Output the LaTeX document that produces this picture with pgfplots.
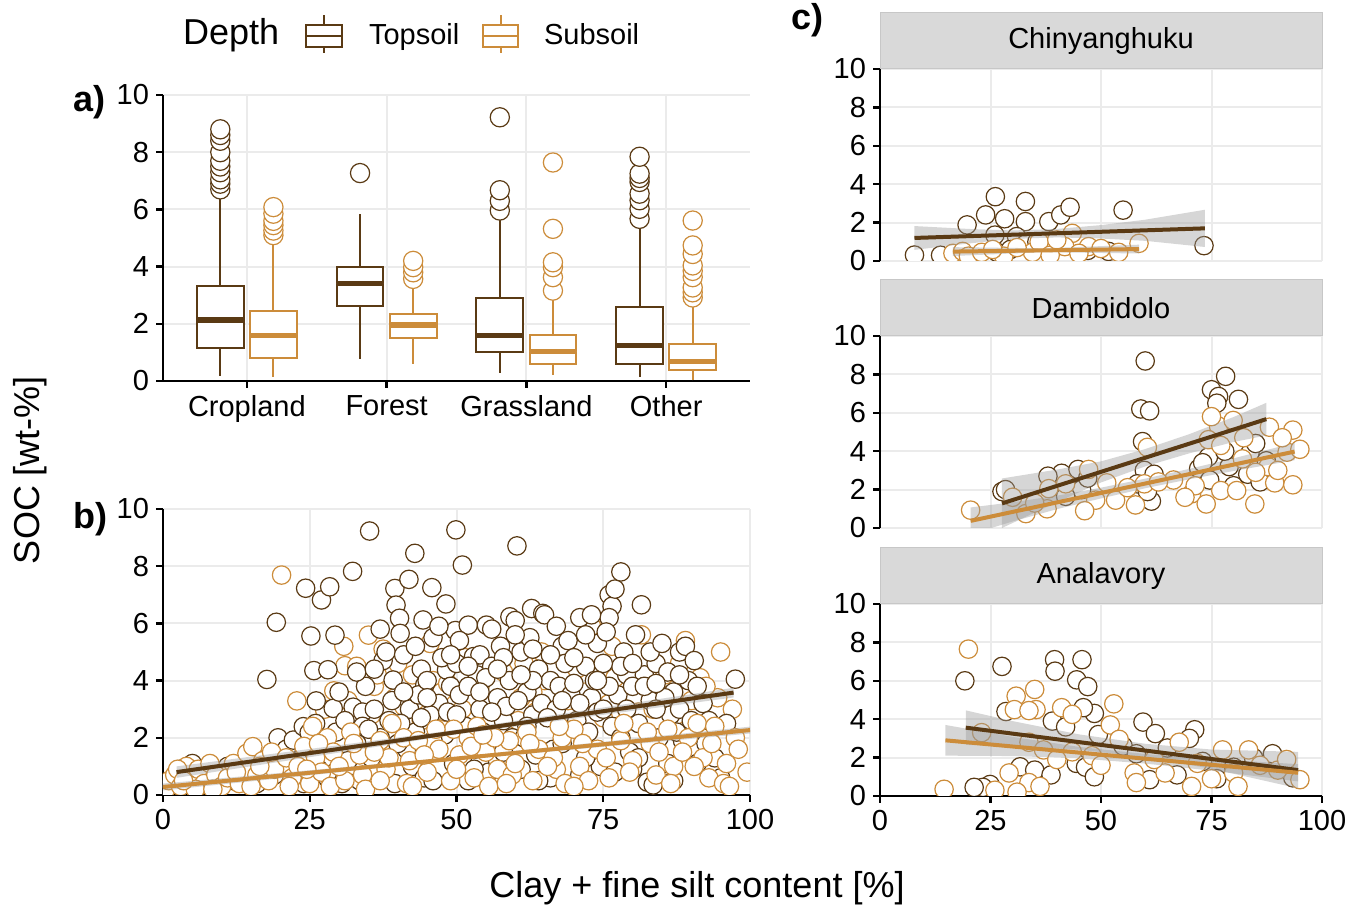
\documentclass[border=0pt]{standalone}
\usepackage{pgfplots}
\pgfplotsset{compat=1.18}
\usepackage{pgfplotstable}
\usepgfplotslibrary{statistics}
\usepackage{fontspec}
\setmainfont{Liberation Sans}

\definecolor{topc}{RGB}{90,58,20}
\definecolor{subc}{RGB}{204,140,58}
\definecolor{gridc}{RGB}{235,235,235}
\definecolor{stripc}{RGB}{217,217,217}

\pgfplotsset{
  soc/.style={
    scale only axis, anchor=south west,
    axis lines=left, axis line style={-, line width=1.2pt, black},
    tick align=outside, major tick length=3.5pt,
    tick style={line width=1.2pt, black},
    grid=major, major grid style={line width=1pt, gridc},
    ymin=0, ymax=10, ytick={0,2,4,6,8,10},
    tick label style={font=\fontsize{14.5}{16}\selectfont, text=black},
    /pgf/number format/assume math mode=true,
    clip marker paths=true,
  },
  noxlab/.style={xticklabels={},
    x axis line style={draw=none}, xtick style={draw=none}},
  ptT/.style={only marks, mark=*, mark size=4.6pt,
    mark options={draw=topc, fill=white, line width=0.6pt}},
  ptS/.style={only marks, mark=*, mark size=4.6pt,
    mark options={draw=subc, fill=white, line width=0.6pt}},
  band/.style={draw=none, fill=black!40, fill opacity=0.4},
  boxT/.style={draw=topc, line width=1pt, fill=white, mark=*, mark size=4.8pt,
    mark options={draw=topc, fill=white, line width=0.6pt},
    boxplot/draw direction=y,
    boxplot/box extend=0.335, boxplot/whisker extend=0,
    boxplot/every median/.style={line width=2.6pt}},
  boxS/.style={boxT, draw=subc,
    mark options={draw=subc, fill=white, line width=0.6pt}},
}

% panel b: SOC vs clay + fine silt, all sites
\pgfplotstableread{
x y
3 0.9
5 1.1
7 0.6
8 1.0
10 0.5
6 0.3
11 1.0
12 0.5
14 0.8
16 0.4
17.7 4.04
18 1.2
19.3 6.04
19.6 2.0
19 0.7
21 1.6
22.2 1.92
22 0.9
23.9 2.39
24.3 7.23
24.9 2.18
23 1.2
24 0.4
25.2 5.56
25.7 4.35
26.1 3.29
27 6.82
27 1.92
28.4 7.28
28.1 4.38
29.3 5.59
29 3.03
26 2.5
27.5 1.3
28 0.6
29.5 2.2
26.5 0.9
32.3 7.82
32.4 3.07
31 2.6
33 1.8
34 2.9
33.5 0.5
31.5 1.2
34.5 3.8
30.5 0.4
33 4.3
34 2.4
35.2 9.23
39.5 7.22
39.7 6.64
37 2.0
36 3.0
38 1.5
39.2 4.02
38.5 2.6
36.5 0.8
37.5 4.7
39 3.3
35.5 1.3
38 5.0
39.5 0.4
40.3 6.18
40.4 5.65
41.9 7.54
42.9 8.45
44.3 6.12
44.6 3.85
41 4.9
42 3.0
43 2.2
41.5 1.6
43.5 3.5
42.5 1.0
44 4.4
40.5 2.5
44.5 0.6
43 5.2
45.8 7.25
48.2 6.68
48.3 4.37
49.8 5.75
49.9 9.27
46 5.5
47 3.2
48 2.1
46.5 1.5
49 3.8
47.5 4.8
45.5 2.8
49.5 1.1
46 0.5
48.5 2.9
51 8.04
52 5.94
52.9 4.84
50.5 3.5
51.5 2.4
53 1.6
54 3.0
52 0.5
53.5 4.2
50.5 5.4
54.5 2.2
51 1.2
55.1 5.94
54 4.9
59.1 6.23
56 4.5
57 3.4
58 2.6
56.5 1.8
59 4.0
57.5 5.2
55.5 0.8
58.5 3.1
59.5 2.0
56 5.8
57 1.2
60.3 8.71
62.8 6.52
64.7 6.35
61 5.0
62 3.6
63 2.8
64 4.4
61.5 2.0
60.5 3.3
63.5 1.4
62.5 5.5
64.5 3.2
61 0.9
60 6.1
65 6.3
66 4.0
67 3.0
68 5.2
69 2.4
66.5 1.6
67.5 3.8
68.5 4.6
65.5 2.7
69.5 3.5
66 0.6
69 5.4
71 6.2
72 4.5
73 3.4
74 5.3
70.5 2.6
71.5 1.8
73.5 4.0
72.5 2.2
70 3.9
74.5 1.0
72 5.6
74 2.9
76 7.0
76.5 6.6
77 7.2
78 7.8
76 6.2
75.5 5.7
79 4.2
77.5 3.5
76.5 2.4
78.5 5.0
75 3.0
79.5 1.5
77 0.8
78 4.5
81.5 6.65
80.5 5.6
82 4.2
83 3.3
81 2.5
84 4.6
82.5 0.45
83.5 0.35
80 3.8
84.5 2.0
81 1.3
83 5.0
86 4.3
87 3.6
88 5.0
89 5.2
86.5 2.8
88.5 1.9
85.5 3.4
89.5 4.0
87.5 2.2
86 1.1
91 3.8
92 3.2
93 2.6
90.5 4.7
97.5 4.05
94 1.3
92.5 1.8
95 0.6
36 4.4
37 5.8
41 3.6
45 4.0
47 5.9
50 4.6
52 3.8
55 4.1
58 4.8
60 5.6
63 4.0
67 5.9
70 4.8
73 6.3
75 4.6
79 3.0
82 3.8
85 5.3
88 3.0
90 2.6
44 2.7
50 2.8
56 2.9
62 2.4
68 1.8
72 1.3
78 2.0
84 3.0
30 3.6
35 2.3
40 1.8
46 1.9
53 0.9
58 1.5
64 0.5
71 0.7
80 0.9
87 0.5
91 1.1
96 2.5
45 3.4
49 4.9
54 3.6
57 4.4
61 4.2
66 4.9
71 3.2
76 3.8
80 4.6
84 3.9
88 4.2
63 5.1
68 3.3
74 4.0
52 4.5
}\topB

\pgfplotstableread{
x y
0.5 0.2
1 0.5
2 0.7
3 0.3
4 1.0
5 0.6
6 0.9
7 0.4
8 1.1
9 0.7
10 0.3
2.5 0.9
5.5 0.2
11 0.6
12 1.1
13 0.4
14 0.9
14.3 1.46
15.3 1.69
16 0.7
17 1.2
18 0.5
19 0.9
20.2 7.69
15 0.3
18.5 1.5
21 1.3
22.8 3.29
22 0.6
23 1.0
24 1.7
25 0.4
26 1.3
27 0.8
28 2.0
29.1 3.64
30.8 5.2
31 4.52
29 1.5
25.5 2.4
28.5 0.3
27.5 3.0
35 5.59
33 4.5
31.5 3.3
32 2.2
33.5 1.4
34 0.7
35.5 2.8
36 3.8
37 1.9
38 0.9
39 2.5
36.5 4.2
38.5 1.3
31 0.5
39.5 3.4
34.5 0.2
37.5 5.1
40 4.6
41 2.0
42 1.2
43 3.3
44 2.6
45 0.8
46 4.0
47 1.6
48 2.9
49 0.5
45.5 5.3
41.5 0.4
43.5 1.9
47.5 3.6
49.5 2.3
42.5 4.2
50.5 1.4
51 3.0
52 2.0
53 0.6
54 3.8
55 1.5
56 2.6
57 0.9
58 4.3
59 1.9
51.5 4.8
55.5 0.3
53.5 2.4
57.5 3.2
59.5 0.7
60 1.1
61 3.4
62 2.2
63 0.5
64 1.6
65 4.0
66 2.8
67 0.9
68 2.0
69 3.3
61.5 4.6
63.5 2.9
66.5 1.3
68.5 0.4
64.5 5.0
62.5 1.8
70 2.3
71 1.0
72 3.6
73 5.9
74 1.6
75 2.7
76 0.6
77 4.1
78 1.9
79 3.0
76.5 5.2
70.5 4.4
72.5 0.5
74.5 3.4
78.5 2.5
80 1.2
81 2.9
82 4.0
83 1.8
84 0.7
85 3.5
86 2.3
87 1.0
88 4.6
89 5.4
89.5 2.0
81.5 5.6
83.5 3.0
86.5 0.4
88.5 1.5
90 3.3
91 2.5
92 1.3
93 0.6
94 2.4
95 5.0
96 1.1
97 3.0
99.5 0.8
91.5 4.1
93.5 1.8
95.5 0.4
97.5 2.0
3.5 0.5
8.5 0.2
12.5 0.8
16.5 1.0
21.5 0.3
24.5 0.9
30 1.0
32.5 1.8
37 0.5
41 3.1
44.5 1.4
46.5 2.3
50 0.9
52.5 1.7
56.5 2.0
60.5 2.6
65.5 1.0
67.5 2.4
71.5 1.8
75.5 1.3
79.5 0.8
82.5 2.2
84.5 1.5
87.5 2.8
90.5 1.0
94.5 3.4
98 1.6
96.5 0.3
92.5 3.8
85.5 4.2
80.5 3.9
76 3.2
70 0.3
63 3.6
58.5 0.4
54.5 2.1
48.5 3.9
42.5 0.3
36 1.5
26.5 1.8
}\subB

\begin{document}
\begin{tikzpicture}
\useasboundingbox (0,0) rectangle (673pt,453pt);

% ---------- a) boxplots by land use
\begin{axis}[soc, at={(81.5pt,262.5pt)}, width=293.5pt, height=143pt,
  xmin=0.4, xmax=4.6, xtick={1,2,3,4},
  xticklabels={Cropland,Forest,Grassland,Other}]
\addplot[boxT, boxplot prepared={draw position=0.81, lower whisker=0.18,
  lower quartile=1.17, median=2.13, upper quartile=3.33, upper whisker=6.5}]
  table[row sep=\\, y index=0] {soc\\ 6.7\\ 6.9\\ 7.05\\ 7.3\\ 7.5\\ 7.7\\ 8.0\\ 8.4\\ 8.6\\ 8.8\\};
\addplot[boxS, boxplot prepared={draw position=1.19, lower whisker=0.14,
  lower quartile=0.8, median=1.58, upper quartile=2.46, upper whisker=4.95}]
  table[row sep=\\, y index=0] {soc\\ 5.1\\ 5.26\\ 5.45\\ 5.6\\ 5.85\\ 6.08\\};
\addplot[boxT, boxplot prepared={draw position=1.81, lower whisker=0.76,
  lower quartile=2.63, median=3.42, upper quartile=4.0, upper whisker=5.85}]
  table[row sep=\\, y index=0] {soc\\ 7.27\\};
\addplot[boxS, boxplot prepared={draw position=2.19, lower whisker=0.58,
  lower quartile=1.52, median=1.96, upper quartile=2.34, upper whisker=3.4}]
  table[row sep=\\, y index=0] {soc\\ 3.57\\ 3.8\\ 3.98\\ 4.2\\};
\addplot[boxT, boxplot prepared={draw position=2.81, lower whisker=0.29,
  lower quartile=1.03, median=1.58, upper quartile=2.89, upper whisker=5.67}]
  table[row sep=\\, y index=0] {soc\\ 5.96\\ 6.3\\ 6.67\\ 9.22\\};
\addplot[boxS, boxplot prepared={draw position=3.19, lower whisker=0.21,
  lower quartile=0.58, median=1.03, upper quartile=1.61, upper whisker=2.98}]
  table[row sep=\\, y index=0] {soc\\ 3.16\\ 3.63\\ 3.98\\ 4.15\\ 5.32\\ 7.64\\};
\addplot[boxT, boxplot prepared={draw position=3.81, lower whisker=0.14,
  lower quartile=0.61, median=1.23, upper quartile=2.57, upper whisker=5.47}]
  table[row sep=\\, y index=0] {soc\\ 5.67\\ 6.02\\ 6.32\\ 6.55\\ 6.96\\ 7.1\\ 7.25\\ 7.84\\};
\addplot[boxS, boxplot prepared={draw position=4.19, lower whisker=0.02,
  lower quartile=0.37, median=0.68, upper quartile=1.29, upper whisker=2.6}]
  table[row sep=\\, y index=0] {soc\\ 2.92\\ 3.1\\ 3.27\\ 3.63\\ 3.85\\ 4.04\\ 4.44\\ 4.74\\ 5.61\\};
\end{axis}

% ---------- b) all sites
\begin{axis}[soc, at={(81.5pt,55.5pt)}, width=293.5pt, height=143pt,
  xmin=0, xmax=100, xtick={0,25,50,75,100}]
\addplot[ptS, restrict y to domain=2.5:10] table[x=x, y=y] {\subB};
\addplot[ptT] table[x=x, y=y] {\topB};
\addplot[ptS, restrict y to domain=0:2.5] table[x=x, y=y] {\subB};
\addplot[band] coordinates {(2.3,1.0) (50,2.28) (97.2,3.75) (97.2,3.41) (50,2.12) (2.3,0.6)};
\addplot[band] coordinates {(0,0.4) (50,1.33) (100,2.39) (100,2.15) (50,1.22) (0,0.16)};
\addplot[topc, line width=2pt] coordinates {(2.3,0.8) (97.2,3.58)};
\addplot[subc, line width=2pt] coordinates {(0,0.28) (100,2.27)};
\end{axis}

% ---------- c) Chinyanghuku
\begin{axis}[soc, noxlab, name=c1, at={(440pt,322.5pt)}, width=221pt, height=96pt,
  xmin=0, xmax=100, xtick={0,25,50,75,100}]
\addplot[ptT] coordinates {(7.8,0.31) (13.7,0.3) (19.7,1.88) (23.9,2.4) (26.1,3.35)
  (28.2,2.2) (26.0,1.35) (32.9,3.1) (32.9,2.05) (38.2,2.05) (40.9,2.4) (43.0,2.8)
  (55.0,2.65) (73.3,0.8) (30.9,1.27) (37.0,0.75) (51.7,0.5) (26.5,0.45) (33.0,0.9)
  (35.5,1.0) (29.5,0.6) (47.0,0.55)};
\addplot[ptS] coordinates {(16.5,0.4) (18.7,0.5) (20.0,0.25) (23.0,0.45) (28.0,0.25)
  (34.5,0.45) (43.5,1.44) (41.8,0.75) (47.2,0.75) (54.0,0.45) (58.6,0.92) (25.5,0.6)
  (31.0,0.7) (36.0,1.0) (38.5,0.3) (45.0,0.4) (50.0,0.65) (40.0,1.1)};
\addplot[band] coordinates {(7.8,1.82) (20,1.67) (30,1.59) (40,1.67) (50,1.87) (60,2.15)
  (73.5,2.67) (73.5,0.73) (60,1.05) (50,1.17) (40,1.23) (30,1.15) (20,0.91) (7.8,0.58)};
\addplot[band] coordinates {(16.5,0.72) (37,0.66) (58.6,0.85) (58.6,0.39) (37,0.46) (16.5,0.26)};
\addplot[topc, line width=2pt] coordinates {(7.8,1.2) (73.5,1.7)};
\addplot[subc, line width=2pt] coordinates {(16.5,0.49) (58.6,0.62)};
\end{axis}

% ---------- c) Dambidolo
\begin{axis}[soc, noxlab, name=c2, at={(440pt,189pt)}, width=221pt, height=96pt,
  xmin=0, xmax=100, xtick={0,25,50,75,100}]
\addplot[ptT] coordinates {(60,8.7) (59,6.2) (61,6.1) (78.2,7.9) (75,7.2) (76.6,6.85)
  (76.2,6.5) (81.1,6.7) (59.4,4.5) (59.8,3.0) (58.2,2.3) (61.4,1.4) (74.3,3.7)
  (72.1,3.1) (74.6,2.5) (79,3.2) (83.7,3.9) (83.2,2.8) (87.4,3.5) (27.6,1.9) (28.4,2.0)
  (41.1,2.85) (44.8,3.05) (45.6,2.0) (42,1.65) (38,2.7) (47,2.6) (60.5,1.9) (62,2.8)
  (78,4.0) (73,3.4) (80,2.2) (85,4.4) (86,2.4)};
\addplot[ptS] coordinates {(20.5,0.93) (33,0.75) (37.8,1.0) (38.2,2.05) (47.2,3.05)
  (51.3,2.35) (53.3,1.45) (48.8,1.45) (46.3,0.9) (57.8,1.2) (66.4,2.5) (70.5,1.78)
  (73.8,1.25) (77.1,1.95) (80.7,1.95) (84.8,1.25) (89.3,2.35) (93.4,2.25) (88.1,5.25)
  (93.4,5.1) (92.1,3.95) (91,4.7) (76.6,5.3) (75,5.8) (79.9,5.6) (82.3,4.7) (74.3,4.6)
  (77.1,4.3) (87.8,3.2) (85,2.9) (90,3.0) (71.3,2.2) (59.8,2.3) (56,2.1) (35,1.3)
  (30,1.6) (42,2.3) (60.5,4.2) (63,2.4) (69,1.6) (82,3.6) (95,4.1)};
\addplot[band] coordinates {(27.6,2.58) (40,3.04) (50,3.47) (60,4.11) (70,4.89) (80,5.78)
  (87.4,6.52) (87.4,4.82) (80,4.48) (70,3.89) (60,3.21) (50,2.37) (40,1.34) (27.6,0.0)};
\addplot[band] coordinates {(20.5,1.07) (30,1.34) (40,1.68) (50,2.1) (60,2.57) (70,3.08)
  (80,3.63) (93.8,4.43) (93.8,3.53) (80,2.97) (70,2.54) (60,2.07) (50,1.54) (40,0.98)
  (30,0.34) (20.5,-0.33)};
\addplot[topc, line width=2pt] coordinates {(27.6,1.28) (87.4,5.67)};
\addplot[subc, line width=2pt] coordinates {(20.5,0.37) (93.8,3.98)};
\end{axis}

% ---------- c) Analavory
\begin{axis}[soc, name=c3, at={(440pt,55pt)}, width=221pt, height=96pt,
  xmin=0, xmax=100, xtick={0,25,50,75,100}]
\addplot[ptT] coordinates {(19.2,6.0) (27.6,6.75) (39.5,7.1) (39.6,6.5) (45.7,7.1)
  (44.5,6.05) (47,5.7) (28.5,4.4) (39,3.9) (48.5,4.3) (46,4.6) (59.5,3.85) (62.3,3.25)
  (71.2,3.45) (70,3.0) (31.7,1.52) (35,1.35) (38.7,1.1) (44.4,1.7) (46.5,1.5) (48.5,1.0)
  (61,0.85) (24.9,0.6) (23.3,0.45) (21.3,0.45) (84.5,2.0) (88.8,2.2) (67.2,1.1)
  (76.2,0.9) (93.4,0.95) (49.4,3.2) (42,3.6) (55,2.6) (65,2.5) (80,1.5) (58,2.2) (73,1.8)};
\addplot[ptS] coordinates {(20,7.65) (14.5,0.35) (35,5.55) (30.8,5.2) (30.4,4.5) (35.3,4.5)
  (33.7,4.45) (41.1,4.6) (43.5,4.25) (52.9,4.8) (52.1,3.7) (54.1,2.95) (33.7,2.8) (37,2.4)
  (43.5,2.3) (29.2,1.2) (33.7,0.7) (36.2,0.5) (57.5,1.2) (58,0.7) (64.5,1.2) (67.7,2.8)
  (71.8,1.7) (77.5,2.4) (83.4,2.4) (80,1.2) (90,1.35) (95,0.85) (81,0.5) (70.5,0.5)
  (23,3.3) (26,0.3) (31,0.2) (48,2.1) (50,1.6) (62,1.9) (86,1.6) (75,0.9) (92,1.9) (40,1.9)};
\addplot[band] coordinates {(19.4,4.46) (30,3.9) (45,3.21) (60,2.72) (75,2.42) (94.6,2.3)
  (94.6,0.4) (75,1.42) (60,2.02) (45,2.41) (30,2.6) (19.4,2.66)};
\addplot[band] coordinates {(14.8,3.7) (30,3.08) (45,2.56) (60,2.19) (75,1.92) (94.6,1.66)
  (94.6,0.76) (75,1.32) (60,1.69) (45,1.96) (30,2.08) (14.8,2.1)};
\addplot[topc, line width=2pt] coordinates {(19.4,3.56) (94.6,1.35)};
\addplot[subc, line width=2pt] coordinates {(14.8,2.9) (94.6,1.21)};
\end{axis}

% facet strips
\foreach \ax/\lab in {c1/Chinyanghuku, c2/Dambidolo, c3/Analavory}{
  \draw[fill=stripc, draw=black!22, line width=0.5pt]
    (\ax.north west) rectangle ([yshift=28pt]\ax.north east);
  \node[font=\fontsize{14.5}{16}\selectfont] at ([yshift=14pt]\ax.north) {\lab};
}

% panel letters and axis titles
\node[anchor=base west, font=\fontsize{18}{20}\selectfont\bfseries] at (33pt,397pt) {a)};
\node[anchor=base west, font=\fontsize{18}{20}\selectfont\bfseries] at (33pt,188.5pt) {b)};
\node[anchor=base west, font=\fontsize{18}{20}\selectfont\bfseries] at (392pt,438pt) {c)};
\node[rotate=90, font=\fontsize{18}{20}\selectfont] at (15pt,218pt) {SOC [wt-\%]};
\node[anchor=base, font=\fontsize{18}{20}\selectfont] at (348.5pt,4pt) {Clay + fine silt content [\%]};

% legend
\node[anchor=base west, font=\fontsize{18}{20}\selectfont] at (88pt,430.5pt) {Depth};
\draw[topc, line width=1pt] (162pt,426.5pt) -- (162pt,429.5pt) (162pt,440.5pt) -- (162pt,445.5pt);
\draw[topc, line width=1pt] (153pt,429.5pt) rectangle (171pt,440.5pt) (153pt,435pt) -- (171pt,435pt);
\node[anchor=base west, font=\fontsize{14.5}{16}\selectfont] at (181pt,430.5pt) {Topsoil};
\draw[subc, line width=1pt] (250.25pt,426.5pt) -- (250.25pt,429.5pt) (250.25pt,440.5pt) -- (250.25pt,445.5pt);
\draw[subc, line width=1pt] (241.5pt,429.5pt) rectangle (259pt,440.5pt) (241.5pt,435pt) -- (259pt,435pt);
\node[anchor=base west, font=\fontsize{14.5}{16}\selectfont] at (268.5pt,430.5pt) {Subsoil};
\end{tikzpicture}
\end{document}
